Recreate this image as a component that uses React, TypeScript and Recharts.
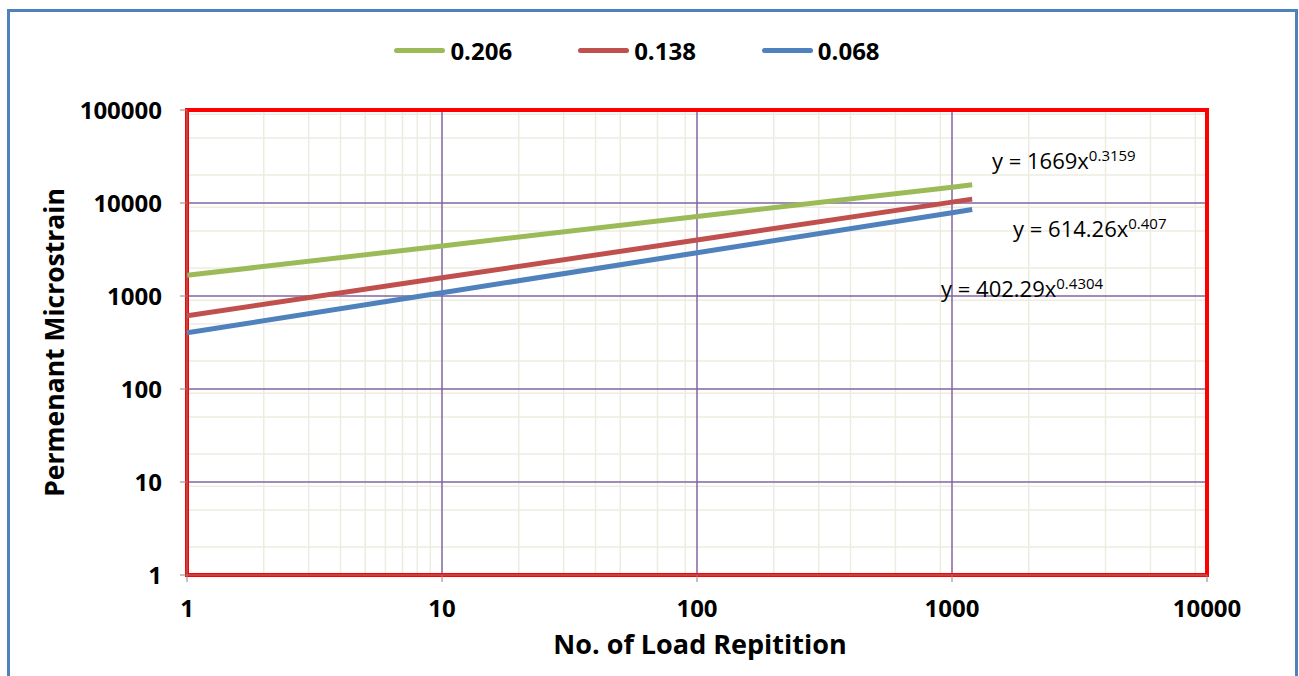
import React from 'react';
import {
  LineChart,
  Line,
  XAxis,
  YAxis,
  CartesianGrid,
  Legend,
  ReferenceArea,
  ReferenceDot,
} from 'recharts';

// ---- data ----
const loadRepetitions = [1, 10, 100, 1000, 1200];
const strain0206 = [1669, 3455, 7152, 14806, 15670];
const strain0138 = [614, 1568, 4004, 10222, 11008];
const strain0068 = [402, 1084, 2921, 7872, 8509];

const seriesNames = ['0.206', '0.138', '0.068'];
const seriesColors = ['#9BBB59', '#C0504D', '#4F81BD'];

const xTicks = [1, 10, 100, 1000, 10000];
const yTicks = [1, 10, 100, 1000, 10000, 100000];

// trendline equation labels (anchor in data units)
const equationMain = ['y = 1669x', 'y = 614.26x', 'y = 402.29x'];
const equationExp = ['0.3159', '0.407', '0.4304'];
const equationX = [1435, 1735, 906];
const equationY = [23200, 4307, 975];

const data = loadRepetitions.map((x, i) => ({
  x,
  s0: strain0206[i],
  s1: strain0138[i],
  s2: strain0068[i],
}));

const minorOf = (majors: number[]) => {
  const out: number[] = [];
  for (let i = 0; i < majors.length - 1; i++) {
    for (let k = 2; k <= 9; k++) out.push(majors[i] * k);
  }
  return out;
};
const xMinor = minorOf(xTicks);
const yMinor = minorOf(yTicks);

const FONT = '"Open Sans", sans-serif';

const renderLegend = () => (
  <div
    style={{
      display: 'flex',
      justifyContent: 'center',
      alignItems: 'center',
      fontFamily: FONT,
      fontWeight: 700,
      fontSize: 24,
      color: '#000',
      paddingRight: 25,
    }}
  >
    {seriesNames.map((n, i) => (
      <div
        key={n}
        style={{ display: 'flex', alignItems: 'center', marginRight: i < 2 ? 66 : 0 }}
      >
        <div
          style={{
            width: 51,
            height: 5,
            borderRadius: 3,
            background: seriesColors[i],
            marginRight: 5,
          }}
        />
        <span>{n}</span>
      </div>
    ))}
  </div>
);

const makeEqLabel = (i: number) => (props: any) => {
  const vb = props.viewBox || {};
  return (
    <text x={vb.x} y={vb.y} fontFamily={FONT} fontSize={22} fill="#000" textAnchor="start">
      <tspan>{equationMain[i]}</tspan>
      <tspan dy={-8} fontSize={15}>
        {equationExp[i]}
      </tspan>
    </text>
  );
};

export default function App() {
  return (
    <div
      style={{
        position: 'absolute',
        left: 0,
        top: 0,
        width: 1299,
        height: 676,
        overflow: 'hidden',
        background: '#fff',
      }}
    >
      <div
        style={{
          position: 'absolute',
          left: 7,
          top: 9,
          width: 1291,
          height: 720,
          boxSizing: 'border-box',
          border: '3px solid #4F81BD',
        }}
      />
      <div style={{ position: 'absolute', left: 0, top: 0 }}>
        <LineChart
          width={1299}
          height={676}
          data={data}
          margin={{ top: 110, right: 92, bottom: 41, left: 57 }}
        >
          <CartesianGrid
            stroke="#EEECE1"
            strokeWidth={1.5}
            horizontalValues={yMinor}
            verticalValues={xMinor}
          />
          <CartesianGrid
            stroke="#8064A2"
            strokeWidth={1.5}
            horizontalValues={yTicks}
            verticalValues={xTicks}
          />
          <XAxis
            dataKey="x"
            type="number"
            scale="log"
            domain={[1, 10000]}
            ticks={xTicks}
            allowDataOverflow
            height={60}
            stroke="#868686"
            tickSize={7}
            tickMargin={18}
            tick={{ fill: '#000', fontFamily: FONT, fontWeight: 700, fontSize: 24 }}
            tickFormatter={(v: number) => String(v)}
            label={{
              value: 'No. of Load Repitition',
              position: 'insideBottom',
              offset: -19,
              dx: 3,
              fill: '#000',
              fontFamily: FONT,
              fontWeight: 700,
              fontSize: 27,
            }}
          />
          <YAxis
            type="number"
            scale="log"
            domain={[1, 100000]}
            ticks={yTicks}
            allowDataOverflow
            width={130}
            stroke="#868686"
            tickSize={7}
            tickMargin={18}
            tick={{ fill: '#000', fontFamily: FONT, fontWeight: 700, fontSize: 24 }}
            tickFormatter={(v: number) => String(v)}
            label={{
              value: 'Permenant Microstrain',
              angle: -90,
              position: 'insideLeft',
              offset: -2,
              fill: '#000',
              fontFamily: FONT,
              fontWeight: 700,
              fontSize: 26.5,
              style: { textAnchor: 'middle' },
            }}
          />
          <Legend
            verticalAlign="middle"
            align="center"
            layout="horizontal"
            content={renderLegend}
            wrapperStyle={{ top: 34, left: 0, width: 1299 }}
          />
          <ReferenceArea
            x1={1}
            x2={10000}
            y1={1}
            y2={100000}
            fill="none"
            fillOpacity={0}
            stroke="#FF0000"
            strokeWidth={4}
            ifOverflow="visible"
          />
          {equationMain.map((_, i) => (
            <ReferenceDot
              key={i}
              x={equationX[i]}
              y={equationY[i]}
              r={0}
              fill="none"
              stroke="none"
              label={makeEqLabel(i)}
            />
          ))}
          <Line
            dataKey="s0"
            name={seriesNames[0]}
            stroke={seriesColors[0]}
            strokeWidth={5}
            dot={false}
            isAnimationActive={false}
          />
          <Line
            dataKey="s1"
            name={seriesNames[1]}
            stroke={seriesColors[1]}
            strokeWidth={5}
            dot={false}
            isAnimationActive={false}
          />
          <Line
            dataKey="s2"
            name={seriesNames[2]}
            stroke={seriesColors[2]}
            strokeWidth={5}
            dot={false}
            isAnimationActive={false}
          />
        </LineChart>
      </div>
    </div>
  );
}
